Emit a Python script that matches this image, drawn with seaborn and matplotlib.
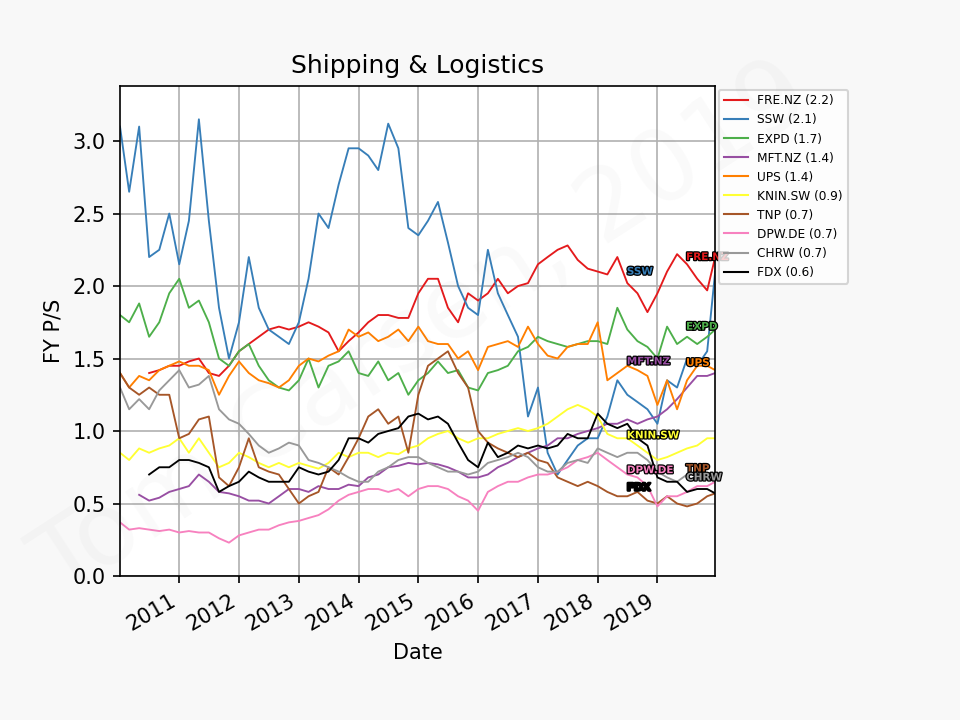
import numpy as np
import pandas as pd
import matplotlib
matplotlib.use("Agg")
import matplotlib.pyplot as plt
import matplotlib.patheffects as pe
import matplotlib.dates as mdates
import seaborn as sns

nan = np.nan

# Sample dates (roughly every two months)
dates = (["2010-01-04"] +
         [d.strftime("%Y-%m-%d") for d in pd.date_range("2010-03-01", "2019-11-01", freq="2MS")] +
         ["2019-12-20"])

fre_nz = [nan, nan, nan, 1.40, 1.42, 1.45, 1.45, 1.48, 1.50, 1.40, 1.38, 1.45, 1.55, 1.60, 1.65, 1.70, 1.72, 1.70,
          1.72, 1.75, 1.72, 1.68, 1.55, 1.62, 1.68, 1.75, 1.80, 1.80, 1.78, 1.78, 1.95, 2.05, 2.05, 1.85, 1.75, 1.95,
          1.90, 1.95, 2.05, 1.95, 2.00, 2.02, 2.15, 2.20, 2.25, 2.28, 2.18, 2.12, 2.10, 2.08, 2.20, 2.02, 1.95, 1.82,
          1.95, 2.10, 2.22, 2.15, 2.05, 1.97, 2.20]
ssw = [3.10, 2.65, 3.10, 2.20, 2.25, 2.50, 2.15, 2.45, 3.15, 2.45, 1.85, 1.50, 1.75, 2.20, 1.85, 1.70, 1.65, 1.60,
       1.75, 2.05, 2.50, 2.40, 2.70, 2.95, 2.95, 2.90, 2.80, 3.12, 2.95, 2.40, 2.35, 2.45, 2.58, 2.30, 2.00, 1.85,
       1.80, 2.25, 1.95, 1.80, 1.65, 1.10, 1.30, 0.85, 0.70, 0.80, 0.90, 0.95, 0.95, 1.10, 1.35, 1.25, 1.20, 1.15,
       1.05, 1.35, 1.30, 1.50, 1.45, 1.55, 2.10]
expd = [1.80, 1.75, 1.88, 1.65, 1.75, 1.95, 2.05, 1.85, 1.90, 1.75, 1.50, 1.45, 1.55, 1.60, 1.45, 1.35, 1.30, 1.28,
        1.35, 1.50, 1.30, 1.45, 1.48, 1.55, 1.40, 1.38, 1.48, 1.35, 1.40, 1.25, 1.35, 1.40, 1.48, 1.40, 1.42, 1.30,
        1.28, 1.40, 1.42, 1.45, 1.55, 1.58, 1.65, 1.62, 1.60, 1.58, 1.60, 1.62, 1.62, 1.60, 1.85, 1.70, 1.62, 1.58,
        1.50, 1.72, 1.60, 1.65, 1.60, 1.65, 1.70]
mft_nz = [nan, nan, 0.56, 0.52, 0.54, 0.58, 0.60, 0.62, 0.70, 0.65, 0.58, 0.57, 0.55, 0.52, 0.52, 0.50, 0.55, 0.60,
          0.60, 0.58, 0.62, 0.60, 0.60, 0.63, 0.62, 0.68, 0.70, 0.75, 0.76, 0.78, 0.77, 0.78, 0.77, 0.75, 0.72, 0.68,
          0.68, 0.70, 0.75, 0.78, 0.82, 0.85, 0.88, 0.90, 0.95, 0.95, 0.98, 1.00, 1.02, 1.05, 1.05, 1.08, 1.05, 1.08,
          1.10, 1.15, 1.22, 1.30, 1.38, 1.38, 1.40]
ups = [1.40, 1.30, 1.38, 1.35, 1.42, 1.45, 1.48, 1.45, 1.45, 1.42, 1.25, 1.38, 1.48, 1.40, 1.35, 1.33, 1.30, 1.35,
       1.45, 1.50, 1.48, 1.52, 1.55, 1.70, 1.65, 1.68, 1.62, 1.65, 1.70, 1.62, 1.72, 1.62, 1.60, 1.60, 1.50, 1.55,
       1.42, 1.58, 1.60, 1.62, 1.58, 1.72, 1.60, 1.52, 1.50, 1.58, 1.60, 1.60, 1.75, 1.35, 1.40, 1.45, 1.42, 1.38,
       1.18, 1.35, 1.15, 1.35, 1.45, 1.45, 1.42]
knin_sw = [0.85, 0.80, 0.88, 0.85, 0.88, 0.90, 0.95, 0.85, 0.95, 0.85, 0.75, 0.78, 0.85, 0.82, 0.78, 0.75, 0.78, 0.75,
           0.78, 0.76, 0.74, 0.78, 0.85, 0.82, 0.85, 0.85, 0.82, 0.85, 0.84, 0.88, 0.90, 0.95, 0.98, 1.00, 0.95, 0.92,
           0.95, 0.95, 0.98, 1.00, 1.02, 1.00, 1.02, 1.05, 1.10, 1.15, 1.18, 1.15, 1.10, 0.98, 0.95, 0.95, 0.90, 0.85,
           0.80, 0.82, 0.85, 0.88, 0.90, 0.95, 0.95]
tnp = [1.40, 1.30, 1.25, 1.30, 1.25, 1.25, 0.95, 0.98, 1.08, 1.10, 0.68, 0.62, 0.75, 0.95, 0.75, 0.72, 0.70, 0.60,
       0.50, 0.55, 0.58, 0.75, 0.70, 0.82, 0.95, 1.10, 1.15, 1.05, 1.10, 0.85, 1.25, 1.45, 1.50, 1.55, 1.40, 1.30,
       1.00, 0.92, 0.88, 0.85, 0.82, 0.85, 0.80, 0.78, 0.68, 0.65, 0.62, 0.65, 0.62, 0.58, 0.55, 0.55, 0.58, 0.52,
       0.50, 0.55, 0.50, 0.48, 0.50, 0.55, 0.57]
dpw_de = [0.37, 0.32, 0.33, 0.32, 0.31, 0.32, 0.30, 0.31, 0.30, 0.30, 0.26, 0.23, 0.28, 0.30, 0.32, 0.32, 0.35, 0.37,
          0.38, 0.40, 0.42, 0.46, 0.52, 0.56, 0.58, 0.60, 0.60, 0.58, 0.60, 0.55, 0.60, 0.62, 0.62, 0.60, 0.55, 0.52,
          0.45, 0.58, 0.62, 0.65, 0.65, 0.68, 0.70, 0.70, 0.72, 0.75, 0.80, 0.82, 0.85, 0.80, 0.75, 0.70, 0.68, 0.62,
          0.48, 0.55, 0.55, 0.58, 0.62, 0.62, 0.65]
chrw = [1.30, 1.15, 1.22, 1.15, 1.28, 1.35, 1.42, 1.30, 1.32, 1.38, 1.15, 1.08, 1.05, 0.98, 0.90, 0.85, 0.88, 0.92,
        0.90, 0.80, 0.78, 0.75, 0.72, 0.68, 0.65, 0.65, 0.72, 0.75, 0.80, 0.82, 0.82, 0.78, 0.75, 0.72, 0.72, 0.70,
        0.72, 0.78, 0.80, 0.82, 0.85, 0.82, 0.75, 0.72, 0.72, 0.78, 0.80, 0.78, 0.88, 0.85, 0.82, 0.85, 0.85, 0.80,
        0.72, 0.68, 0.65, 0.70, 0.70, 0.68, 0.70]
fdx = [nan, nan, nan, 0.70, 0.75, 0.75, 0.80, 0.80, 0.78, 0.75, 0.58, 0.62, 0.65, 0.72, 0.68, 0.65, 0.65, 0.65,
       0.75, 0.72, 0.70, 0.72, 0.80, 0.95, 0.95, 0.92, 0.98, 1.00, 1.02, 1.10, 1.12, 1.08, 1.10, 1.05, 0.92, 0.80,
       0.75, 0.92, 0.82, 0.85, 0.90, 0.88, 0.90, 0.88, 0.90, 0.98, 0.95, 0.95, 1.12, 1.05, 1.02, 1.05, 0.95, 0.90,
       0.68, 0.65, 0.65, 0.58, 0.60, 0.60, 0.57]

tickers = ["FRE.NZ", "SSW", "EXPD", "MFT.NZ", "UPS", "KNIN.SW", "TNP", "DPW.DE", "CHRW", "FDX"]
latest = ["2.2", "2.1", "1.7", "1.4", "1.4", "0.9", "0.7", "0.7", "0.7", "0.6"]
series = [fre_nz, ssw, expd, mft_nz, ups, knin_sw, tnp, dpw_de, chrw, fdx]
colors = ["#e41a1c", "#377eb8", "#4daf4a", "#984ea3", "#ff7f00", "#ffff33",
          "#a65628", "#f781bf", "#999999", "#000000"]

# End-label anchor points (date, value)
label_pos = {
    "FRE.NZ": ("2019-06-25", 2.20), "SSW": ("2018-06-28", 2.10),
    "EXPD": ("2019-06-25", 1.72), "MFT.NZ": ("2018-06-28", 1.48),
    "UPS": ("2019-06-25", 1.47), "KNIN.SW": ("2018-06-28", 0.97),
    "TNP": ("2019-06-25", 0.74), "DPW.DE": ("2018-06-28", 0.73),
    "CHRW": ("2019-06-25", 0.68), "FDX": ("2018-06-28", 0.61),
}

rows = []
for t, vals in zip(tickers, series):
    for d, v in zip(dates, vals):
        rows.append({"Date": pd.Timestamp(d), "PS": v, "Ticker": t})
df = pd.DataFrame(rows).dropna()

fig = plt.figure(figsize=(6.4, 4.8), dpi=150, facecolor="#f8f8f8")
ax = fig.add_axes([0.125, 0.2, 0.62, 0.6806])
ax.set_facecolor("white")

sns.lineplot(data=df, x="Date", y="PS", hue="Ticker", hue_order=tickers,
             palette=dict(zip(tickers, colors)), linewidth=0.9, ax=ax,
             legend=False, estimator=None, sort=True)

ax.set_xlim(pd.Timestamp(dates[0]), pd.Timestamp(dates[-1]))
ax.set_ylim(0, 3.38)
ax.grid(True, color="#b0b0b0", linewidth=0.8)
ax.set_axisbelow(True)
ax.set_title("Shipping & Logistics", fontsize=12)
ax.set_xlabel("Date")
ax.set_ylabel("FY P/S")
for s in ax.spines.values():
    s.set_color("black")

ax.xaxis.set_major_locator(mdates.YearLocator())
ax.xaxis.set_major_formatter(mdates.DateFormatter("%Y"))
for lbl in ax.get_xticklabels():
    lbl.set_rotation(30)
    lbl.set_ha("right")

handles = [plt.Line2D([], [], color=c, linewidth=1.0) for c in colors]
labels = [f"{t} ({v})" for t, v in zip(tickers, latest)]
ax.legend(handles, labels, loc="upper left", bbox_to_anchor=(1.0, 1.0),
          borderaxespad=0.3, fontsize=5.8)

for t, c in zip(tickers, colors):
    d, v = label_pos[t]
    ax.text(pd.Timestamp(d), v, t, color=c, fontsize=5, fontweight="bold",
            ha="left", va="center", clip_on=False, zorder=5,
            path_effects=[pe.withStroke(linewidth=1.2, foreground="black")])

fig.text(0.44, 0.54, "Tom Carsen, 2019", fontsize=48, color="gray", alpha=0.04,
         rotation=33, ha="center", va="center", zorder=10)

fig.savefig("out.png", dpi=150, facecolor=fig.get_facecolor())
